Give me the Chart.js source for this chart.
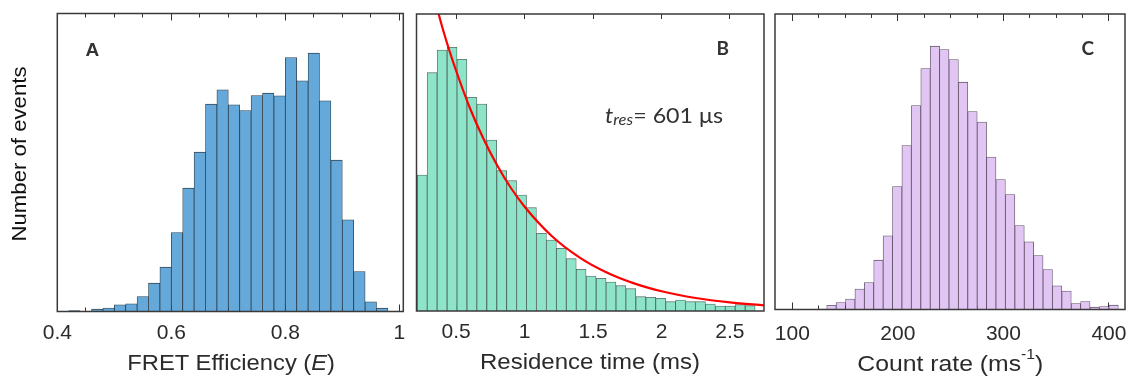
<!DOCTYPE html>
<html>
<head>
<meta charset="utf-8">
<script src="https://cdn.jsdelivr.net/npm/chart.js@4.4.1/dist/chart.umd.min.js"></script>
<style>
html, body { margin: 0; padding: 0; background: #ffffff; }
#wrap { position: relative; width: 1130px; height: 379px; overflow: hidden; background: #ffffff; }
#wrap canvas { position: absolute; top: 0; }
#overlay { position: absolute; left: 0; top: 0; pointer-events: none; }
</style>
</head>
<body>
<div id="wrap">
  <canvas id="cA" width="410" height="379" style="left:0px"></canvas>
  <canvas id="cB" width="360" height="379" style="left:410px"></canvas>
  <canvas id="cC" width="360" height="379" style="left:770px"></canvas>
  <svg id="overlay" width="1130" height="379" font-family="Liberation Sans, Arial, Helvetica, sans-serif">
    <text x="25.5" y="154" transform="rotate(-90 25.5 154)" text-anchor="middle" font-size="19.5" fill="#111111" textLength="175" lengthAdjust="spacingAndGlyphs">Number of events</text>
    <text x="231.2" y="370" text-anchor="middle" font-size="22" fill="#2b2b2b" textLength="207.7" lengthAdjust="spacingAndGlyphs">FRET Efficiency (<tspan font-style="italic">E</tspan>)</text>
    <text x="590" y="369" text-anchor="middle" font-size="22" fill="#2b2b2b" textLength="220" lengthAdjust="spacingAndGlyphs">Residence time (ms)</text>
    <text x="950.3" y="370.5" text-anchor="middle" font-size="22" fill="#2b2b2b" textLength="186" lengthAdjust="spacingAndGlyphs">Count rate (ms<tspan font-size="14" dy="-12">-1</tspan><tspan dy="12">)</tspan></text>
    <text x="85.5" y="56" font-size="19" font-weight="bold" fill="#333333">A</text>
    <text x="716.5" y="55" font-family="Lato, Open Sans, sans-serif" font-size="19" font-weight="bold" fill="#333333">B</text>
    <text x="1081.5" y="55" font-family="Lato, Open Sans, sans-serif" font-size="19" font-weight="bold" fill="#333333">C</text>
    <text x="605" y="123.3" font-family="Lato, Open Sans, sans-serif" font-size="21" fill="#333333" textLength="118" lengthAdjust="spacingAndGlyphs"><tspan font-style="italic">t</tspan><tspan font-style="italic" font-size="15" dy="2">res</tspan><tspan dy="-2">= 601 μs</tspan></text>
  </svg>
</div>
<script>
// ---------- Panel A : FRET efficiency ----------
const fretBins = [0.43,0.45,0.47,0.49,0.51,0.53,0.55,0.57,0.59,0.61,0.63,0.65,0.67,0.69,0.71,0.73,0.75,0.77,0.79,0.81,0.83,0.85,0.87,0.89,0.91,0.93,0.95,0.97];
const fretCounts = [1,0,2.3,3.5,6.7,7.7,15,28.3,44.3,79,123.3,159.3,207.3,221.7,206.7,201,216,218.3,215.7,254,230.7,258.3,210.7,151.3,91.7,40,9.7,3.3];
const fretTickValues = [0.4,0.6,0.8,1.0];
const fretTickLabels = ['0.4','0.6','0.8','1'];
const fretMinorTicks = [0.4,0.45,0.5,0.55,0.6,0.65,0.7,0.75,0.8,0.85,0.9,0.95,1.0];

// ---------- Panel B : residence time ----------
const resBins = [0.252,0.324,0.397,0.470,0.542,0.615,0.687,0.760,0.833,0.905,0.978,1.050,1.123,1.196,1.268,1.341,1.413,1.486,1.559,1.631,1.704,1.776,1.849,1.922,1.994,2.067,2.139,2.212,2.285,2.357,2.430,2.502,2.575,2.648];
const resCounts = [136,238.3,261,263.7,251.7,213.7,207,171,140.3,130.3,116,103.3,77.7,71,62.7,52.3,41.7,35,32.7,29,25.3,22.3,14.3,13.7,12.7,9.3,11,9.3,9.3,7,5,5,6.3,5.3];
const fitTimes = [0.35,0.40,0.45,0.50,0.60,0.70,0.80,0.90,1.00,1.20,1.40,1.60,1.80,2.00,2.25,2.50,2.75];
const fitCounts = [308,283,260.5,240,203,172,145.5,123,104.3,74.8,53.7,38.5,27.6,19.8,13,8.6,5.7];
const resTickValues = [0.5,1,1.5,2,2.5];
const resTickLabels = ['0.5','1','1.5','2','2.5'];

// ---------- Panel C : count rate ----------
const rateBins = [128.2,137.1,146.0,154.9,163.8,172.7,181.6,190.5,199.4,208.3,217.3,226.2,235.1,244.0,252.9,261.8,270.7,279.6,288.5,297.4,306.4,315.3,324.2,333.1,342.0,350.9,359.8,368.7,377.6,386.5,395.5,404.4];
const rateCounts = [0.5,4.2,7,10.5,20.5,27,49.3,73.7,123,164,204,241,263.3,260,250,227.3,198,187.5,152.5,130,115,84,67.7,54,40,23.7,18.5,6,8,2.3,3,4.3];
const rateTickValues = [100,200,300,400];
const rateTickLabels = ['100','200','300','400'];
const rateMinorTicks = [100,125,150,175,200,225,250,275,300,325,350,375,400];

const TICK_FONT = { family: "'Liberation Sans', Arial, Helvetica, sans-serif", size: 21 };
Chart.defaults.font.family = "'Liberation Sans', Arial, Helvetica, sans-serif";

const framePlugin = {
  id: 'frame',
  afterDatasetsDraw(chart) {
    const a = chart.chartArea, ctx = chart.ctx;
    ctx.save();
    ctx.strokeStyle = '#3a3a3a';
    ctx.lineWidth = 1.5;
    ctx.strokeRect(a.left, a.top, a.right - a.left, a.bottom - a.top);
    ctx.restore();
  }
};

function labelFor(values, labels) {
  return v => {
    const i = values.findIndex(t => Math.abs(t - v) < 1e-9);
    return i < 0 ? '' : labels[i];
  };
}

function noPad(ax, h) {
  ax.height = h;
  ax.paddingLeft = 0; ax.paddingRight = 0; ax.paddingTop = 0; ax.paddingBottom = 0;
}

function tickAxis(pos, min, max, values, len, extra) {
  return Object.assign({
    type: 'linear', position: pos, min: min, max: max, bounds: 'data', offset: false,
    afterBuildTicks: ax => { ax.ticks = values.map(v => ({ value: v })); },
    ticks: { display: false, autoSkip: false, maxRotation: 0, minRotation: 0 },
    grid: { drawOnChartArea: false, drawTicks: true, tickLength: -len, tickColor: '#333333', tickWidth: 1, offset: false },
    border: { display: false },
    afterFit: ax => noPad(ax, 0)
  }, extra || {});
}

function mainAxis(min, max, values, labels, len, pad, height) {
  return {
    type: 'linear', position: 'bottom', min: min, max: max, bounds: 'data', offset: false,
    afterBuildTicks: ax => { ax.ticks = values.map(v => ({ value: v })); },
    ticks: { display: true, autoSkip: false, maxRotation: 0, minRotation: 0, padding: pad,
             font: TICK_FONT, color: '#2b2b2b', callback: labelFor(values, labels) },
    grid: { drawOnChartArea: false, drawTicks: true, tickLength: -len, tickColor: '#333333', tickWidth: 1, offset: false },
    border: { display: false },
    afterFit: ax => noPad(ax, height)
  };
}

function barSet(bins, counts, bg, edge) {
  return {
    type: 'bar', order: 1,
    data: bins.map((x, i) => ({ x: x, y: counts[i] })),
    backgroundColor: bg, borderColor: edge, borderWidth: 0.8,
    barPercentage: 1, categoryPercentage: 1,
    xAxisID: 'x', yAxisID: 'y'
  };
}

const baseOpts = {
  responsive: false, maintainAspectRatio: false, animation: false, devicePixelRatio: 1,
  plugins: { legend: { display: false }, tooltip: { enabled: false } }
};

// Panel A
new Chart(document.getElementById('cA'), {
  type: 'bar',
  data: { datasets: [ barSet(fretBins, fretCounts, '#64a9d9', 'rgba(30,50,65,0.9)') ] },
  options: Object.assign({}, baseOpts, {
    layout: { autoPadding: false, padding: { left: 57.3, right: 6.7, top: 13.5, bottom: 0 } },
    scales: {
      x: mainAxis(0.4, 1.007, fretTickValues, fretTickLabels, 7, 16.6, 67.5),
      xm: tickAxis('bottom', 0.4, 1.007, fretMinorTicks, 4, { weight: -1 }),
      xt: tickAxis('top', 0.4, 1.007, fretTickValues, 7),
      xtm: tickAxis('top', 0.4, 1.007, fretMinorTicks, 4),
      y: { display: false, min: 0, max: 298 }
    }
  }),
  plugins: [framePlugin]
});

// Panel B
new Chart(document.getElementById('cB'), {
  type: 'bar',
  data: { datasets: [
    { type: 'line', order: 0, data: fitTimes.map((x, i) => ({ x: x, y: fitCounts[i] })),
      borderColor: '#ff0000', borderWidth: 2.2, pointRadius: 0, fill: false,
      cubicInterpolationMode: 'monotone', clip: 0, xAxisID: 'x', yAxisID: 'y' },
    barSet(resBins, resCounts, '#8ee4c9', 'rgba(50,80,70,0.85)')
  ] },
  options: Object.assign({}, baseOpts, {
    layout: { autoPadding: false, padding: { left: 6.5, right: 6, top: 14, bottom: 0 } },
    scales: {
      x: mainAxis(0.21, 2.749, resTickValues, resTickLabels, 5, 13.9, 68),
      xt: tickAxis('top', 0.21, 2.749, resTickValues, 5),
      y: { display: false, min: 0, max: 297 }
    }
  }),
  plugins: [framePlugin]
});

// Panel C
new Chart(document.getElementById('cC'), {
  type: 'bar',
  data: { datasets: [ barSet(rateBins, rateCounts, '#e1c5f3', 'rgba(70,55,80,0.85)') ] },
  options: Object.assign({}, baseOpts, {
    layout: { autoPadding: false, padding: { left: 5, right: 5, top: 14, bottom: 0 } },
    scales: {
      x: mainAxis(83.6, 415.2, rateTickValues, rateTickLabels, 7, 19, 69.5),
      xm: tickAxis('bottom', 83.6, 415.2, rateMinorTicks, 4, { weight: -1 }),
      xt: tickAxis('top', 83.6, 415.2, rateTickValues, 7),
      xtm: tickAxis('top', 83.6, 415.2, rateMinorTicks, 4),
      y: { display: false, min: 0, max: 295.5 }
    }
  }),
  plugins: [framePlugin]
});
</script>
</body>
</html>
